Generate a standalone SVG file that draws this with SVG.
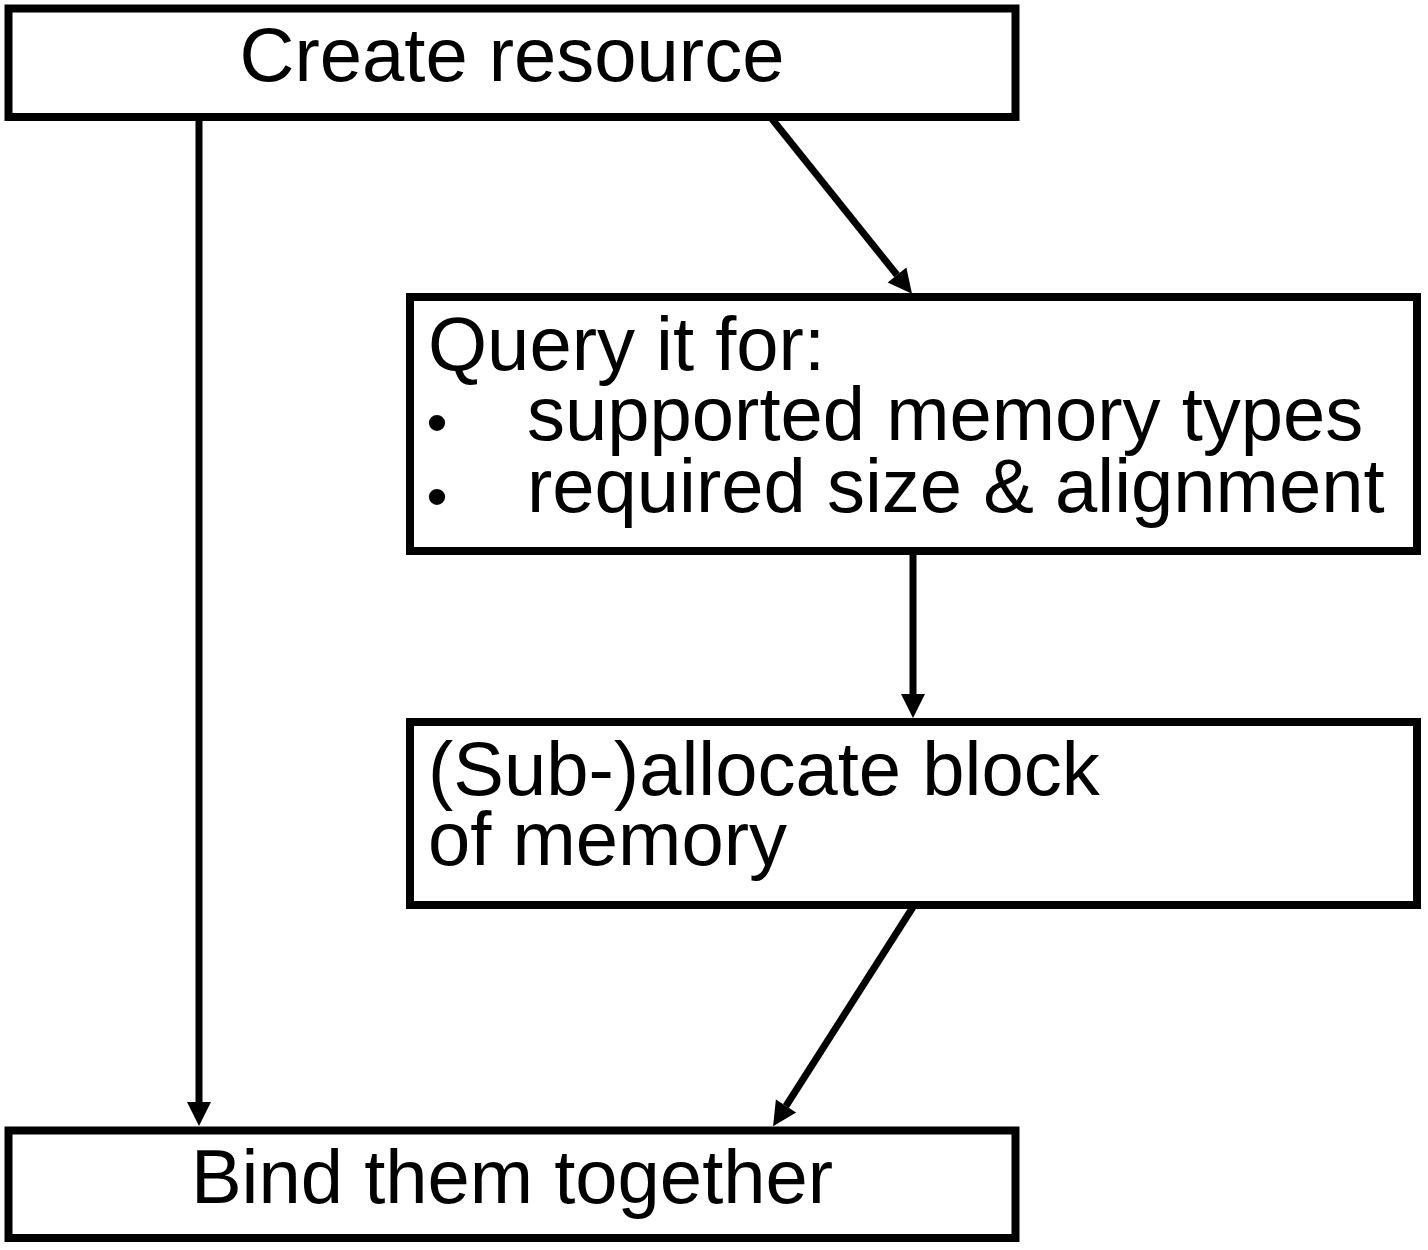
<svg xmlns="http://www.w3.org/2000/svg" width="1428" height="1250" viewBox="0 0 1428 1250">
  <style>
    .box { fill: #ffffff; stroke: #000000; stroke-width: 8; }
    .lbl { font-family: "Liberation Sans", Arial, sans-serif; font-size: 76px; fill: #000000; }
    .bul { font-family: "Liberation Sans", Arial, sans-serif; font-size: 60px; fill: #000000; }
    .edge { stroke: #000000; stroke-width: 7; fill: none; marker-end: url(#arrow); }
  </style>
  <defs>
    <marker id="arrow" markerUnits="userSpaceOnUse" markerWidth="26" markerHeight="26" refX="0" refY="12" orient="auto" overflow="visible">
      <path d="M0,0 L24,12 L0,24 z" fill="#000000"/>
    </marker>
  </defs>
  <rect x="0" y="0" width="1428" height="1250" fill="#ffffff"/>

  <g id="node-create">
    <rect class="box" x="8.5" y="8.5" width="1007" height="108.5"/>
    <text class="lbl" x="512" y="81" text-anchor="middle">Create resource</text>
  </g>

  <g id="node-query">
    <rect class="box" x="410" y="297" width="1007" height="254"/>
    <text class="lbl" x="428" y="370">Query it for:</text>
    <text class="bul" x="426.5" y="443">•</text>
    <text class="lbl" x="527" y="440">supported memory types</text>
    <text class="bul" x="426.5" y="516.5">•</text>
    <text class="lbl" x="527" y="512">required size &amp; alignment</text>
  </g>

  <g id="node-alloc">
    <rect class="box" x="410" y="722" width="1007" height="183"/>
    <text class="lbl" x="428" y="795">(Sub-)allocate block</text>
    <text class="lbl" x="428" y="865">of memory</text>
  </g>

  <g id="node-bind">
    <rect class="box" x="8.5" y="1130.5" width="1007" height="107.5"/>
    <text class="lbl" x="512" y="1203" text-anchor="middle">Bind them together</text>
  </g>

  <g id="connectors">
    <line class="edge" x1="199" y1="121" x2="199" y2="1102"/>
    <line class="edge" x1="772" y1="119" x2="897" y2="275"/>
    <line class="edge" x1="913" y1="555" x2="913" y2="694"/>
    <line class="edge" x1="913" y1="907" x2="786" y2="1106"/>
  </g>
</svg>
